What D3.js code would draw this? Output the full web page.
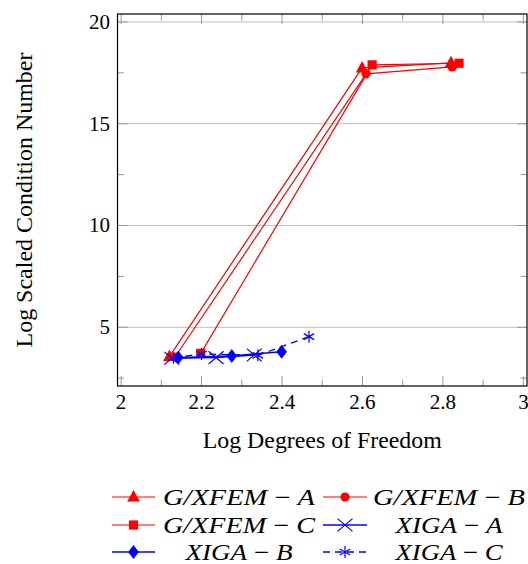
<!DOCTYPE html>
<html><head><meta charset="utf-8">
<script src="https://cdn.jsdelivr.net/npm/d3@7"></script>
<style>body{margin:0;background:#fff}svg{display:block}</style>
</head><body>
<svg id="c" width="528" height="564"></svg>
<script>
// ---- data ----
const xTicks = [2, 2.2, 2.4, 2.6, 2.8, 3];
const xTickLabels = ["2", "2.2", "2.4", "2.6", "2.8", "3"];
const yTicks = [5, 10, 15, 20];
const yTickLabels = ["5", "10", "15", "20"];
const gxA_x = [2.120, 2.599, 2.820];
const gxA_y = [3.56, 17.74, 17.99];
const gxB_x = [2.134, 2.609, 2.823];
const gxB_y = [3.54, 17.45, 17.79];
const gxC_x = [2.198, 2.624, 2.840];
const gxC_y = [3.72, 17.89, 17.97];
const xgA_x = [2.126, 2.236, 2.331];
const xgA_y = [3.48, 3.51, 3.64];
const xgB_x = [2.142, 2.275, 2.399];
const xgB_y = [3.51, 3.59, 3.80];
const xgC_x = [2.130, 2.200, 2.340, 2.467];
const xgC_y = [3.50, 3.69, 3.62, 4.54];
const seriesNames = ["G/XFEM", "G/XFEM", "G/XFEM", "XIGA", "XIGA", "XIGA"];
const seriesLetters = ["A", "B", "C", "A", "B", "C"];

const svg = d3.select("#c");
const L = 117.5, R = 527, T = 14, B = 386;
const x = d3.scaleLinear().domain([1.991, 3.009]).range([L, R]);
const y = d3.scaleLinear().domain([2.115, 20.39]).range([B, T]);
const RED = "#ff0000", BLUE = "#0000ff";
const FONT = "'Liberation Serif', 'Times New Roman', serif";

const series = [
  {xs: gxA_x, ys: gxA_y, color: RED, marker: "triangle", dash: null, w: 1.2},
  {xs: gxB_x, ys: gxB_y, color: RED, marker: "circle", dash: null, w: 1.2},
  {xs: gxC_x, ys: gxC_y, color: RED, marker: "square", dash: null, w: 1.2},
  {xs: xgA_x, ys: xgA_y, color: BLUE, marker: "x", dash: null, w: 1.5},
  {xs: xgB_x, ys: xgB_y, color: BLUE, marker: "diamond", dash: null, w: 1.6},
  {xs: xgC_x, ys: xgC_y, color: BLUE, marker: "asterisk", dash: "7,5", w: 1.3},
];

// grid
const g = svg.append("g");
g.selectAll("line.grid").data(yTicks).join("line")
  .attr("x1", L).attr("x2", R).attr("y1", d => y(d)).attr("y2", d => y(d))
  .attr("stroke", "#c0c0c0").attr("stroke-width", 1);

// ticks (mirrored)
const xMinor = d3.range(2.1, 3.0, 0.2);
const yMinor = [2.5, 7.5, 12.5, 17.5];
const TC = "#9a9a9a";
function vt(v, len) {
  g.append("line").attr("x1", x(v)).attr("x2", x(v)).attr("y1", B).attr("y2", B - len).attr("stroke", TC).attr("stroke-width", 1);
  g.append("line").attr("x1", x(v)).attr("x2", x(v)).attr("y1", T).attr("y2", T + len).attr("stroke", TC).attr("stroke-width", 1);
}
function ht(v, len) {
  g.append("line").attr("y1", y(v)).attr("y2", y(v)).attr("x1", L).attr("x2", L + len).attr("stroke", TC).attr("stroke-width", 1);
  g.append("line").attr("y1", y(v)).attr("y2", y(v)).attr("x1", R).attr("x2", R - len).attr("stroke", TC).attr("stroke-width", 1);
}
xTicks.forEach(v => vt(v, 10));
xMinor.forEach(v => vt(v, 6.5));
yTicks.forEach(v => ht(v, 10));
yMinor.forEach(v => ht(v, 6.5));

// markers
function marker(sel, type, cx, cy, color) {
  if (type === "triangle") {
    sel.append("path").attr("d", `M${cx},${cy-7}L${cx+6.3},${cy+4.5}L${cx-6.3},${cy+4.5}Z`).attr("fill", color);
  } else if (type === "circle") {
    sel.append("circle").attr("cx", cx).attr("cy", cy).attr("r", 4.6).attr("fill", color);
  } else if (type === "square") {
    sel.append("rect").attr("x", cx-4.6).attr("y", cy-4.6).attr("width", 9.2).attr("height", 9.2).attr("fill", color);
  } else if (type === "diamond") {
    sel.append("path").attr("d", `M${cx},${cy-7}L${cx+5.3},${cy}L${cx},${cy+7}L${cx-5.3},${cy}Z`).attr("fill", color);
  } else if (type === "x") {
    const s = 7.5;
    sel.append("path").attr("d", `M${cx-s},${cy-s*0.85}L${cx+s},${cy+s*0.85}M${cx-s},${cy+s*0.85}L${cx+s},${cy-s*0.85}`)
      .attr("stroke", color).attr("stroke-width", 1.2).attr("fill", "none");
  } else if (type === "asterisk") {
    const s = 6;
    let d = "";
    [90, 30, 150].forEach(a => {
      const r = a * Math.PI / 180;
      d += `M${cx - s*Math.cos(r)},${cy - s*Math.sin(r)}L${cx + s*Math.cos(r)},${cy + s*Math.sin(r)}`;
    });
    sel.append("path").attr("d", d).attr("stroke", color).attr("stroke-width", 1.2).attr("fill", "none");
  }
}

// series
const line = d3.line().x(d => x(d[0])).y(d => y(d[1]));
const pg = svg.append("g");
series.forEach(s => {
  const pts = s.xs.map((v, i) => [v, s.ys[i]]);
  const sg = pg.append("g");
  sg.append("path").attr("d", line(pts)).attr("fill", "none").attr("stroke", s.color)
    .attr("stroke-width", s.w).attr("stroke-dasharray", s.dash);
  pts.forEach(p => marker(sg, s.marker, x(p[0]), y(p[1]), s.color));
});

// frame
svg.append("rect").attr("x", L).attr("y", T).attr("width", R - L).attr("height", B - T)
  .attr("fill", "none").attr("stroke", "#000").attr("stroke-width", 1.2);

// tick labels
svg.selectAll("text.xt").data(xTicks).join("text")
  .attr("x", d => x(d)).attr("y", 409).attr("text-anchor", "middle")
  .attr("font-family", FONT).attr("font-size", 21).text((d, i) => xTickLabels[i]);
svg.selectAll("text.yt").data(yTicks).join("text")
  .attr("x", 110).attr("y", d => y(d) + 7).attr("text-anchor", "end")
  .attr("font-family", FONT).attr("font-size", 21).text((d, i) => yTickLabels[i]);

// axis labels
svg.append("text").attr("x", (L + R) / 2).attr("y", 448).attr("text-anchor", "middle")
  .attr("font-family", FONT).attr("font-size", 23).attr("textLength", 239).attr("lengthAdjust", "spacingAndGlyphs")
  .text("Log Degrees of Freedom");
svg.append("text").attr("transform", `translate(32,${(T + B) / 2}) rotate(-90)`).attr("text-anchor", "middle")
  .attr("font-family", FONT).attr("font-size", 23).attr("textLength", 295).attr("lengthAdjust", "spacingAndGlyphs")
  .text("Log Scaled Condition Number");

// legend
const rowsY = [497, 525, 552];
const cols = [{l0: 112, l1: 155, tc: 239}, {l0: 323, l1: 367, tc: 449}];
const lg = svg.append("g");
series.forEach((s, i) => {
  const col = cols[i % 2], ry = rowsY[Math.floor(i / 2)];
  lg.append("line").attr("x1", col.l0).attr("x2", col.l1).attr("y1", ry).attr("y2", ry)
    .attr("stroke", s.color).attr("stroke-width", s.w).attr("stroke-dasharray", s.dash);
  marker(lg, s.marker, (col.l0 + col.l1) / 2, ry, s.color);
  const t = lg.append("text").attr("x", col.tc).attr("y", ry + 8).attr("text-anchor", "middle")
    .attr("font-family", FONT).attr("font-size", 23)
    .attr("textLength", seriesNames[i] === "G/XFEM" ? 152 : 107).attr("lengthAdjust", "spacingAndGlyphs");
  t.append("tspan").attr("font-style", "italic").text(seriesNames[i]);
  t.append("tspan").text(" \u2212 ");
  t.append("tspan").attr("font-style", "italic").text(seriesLetters[i]);
});
</script>
</body></html>
